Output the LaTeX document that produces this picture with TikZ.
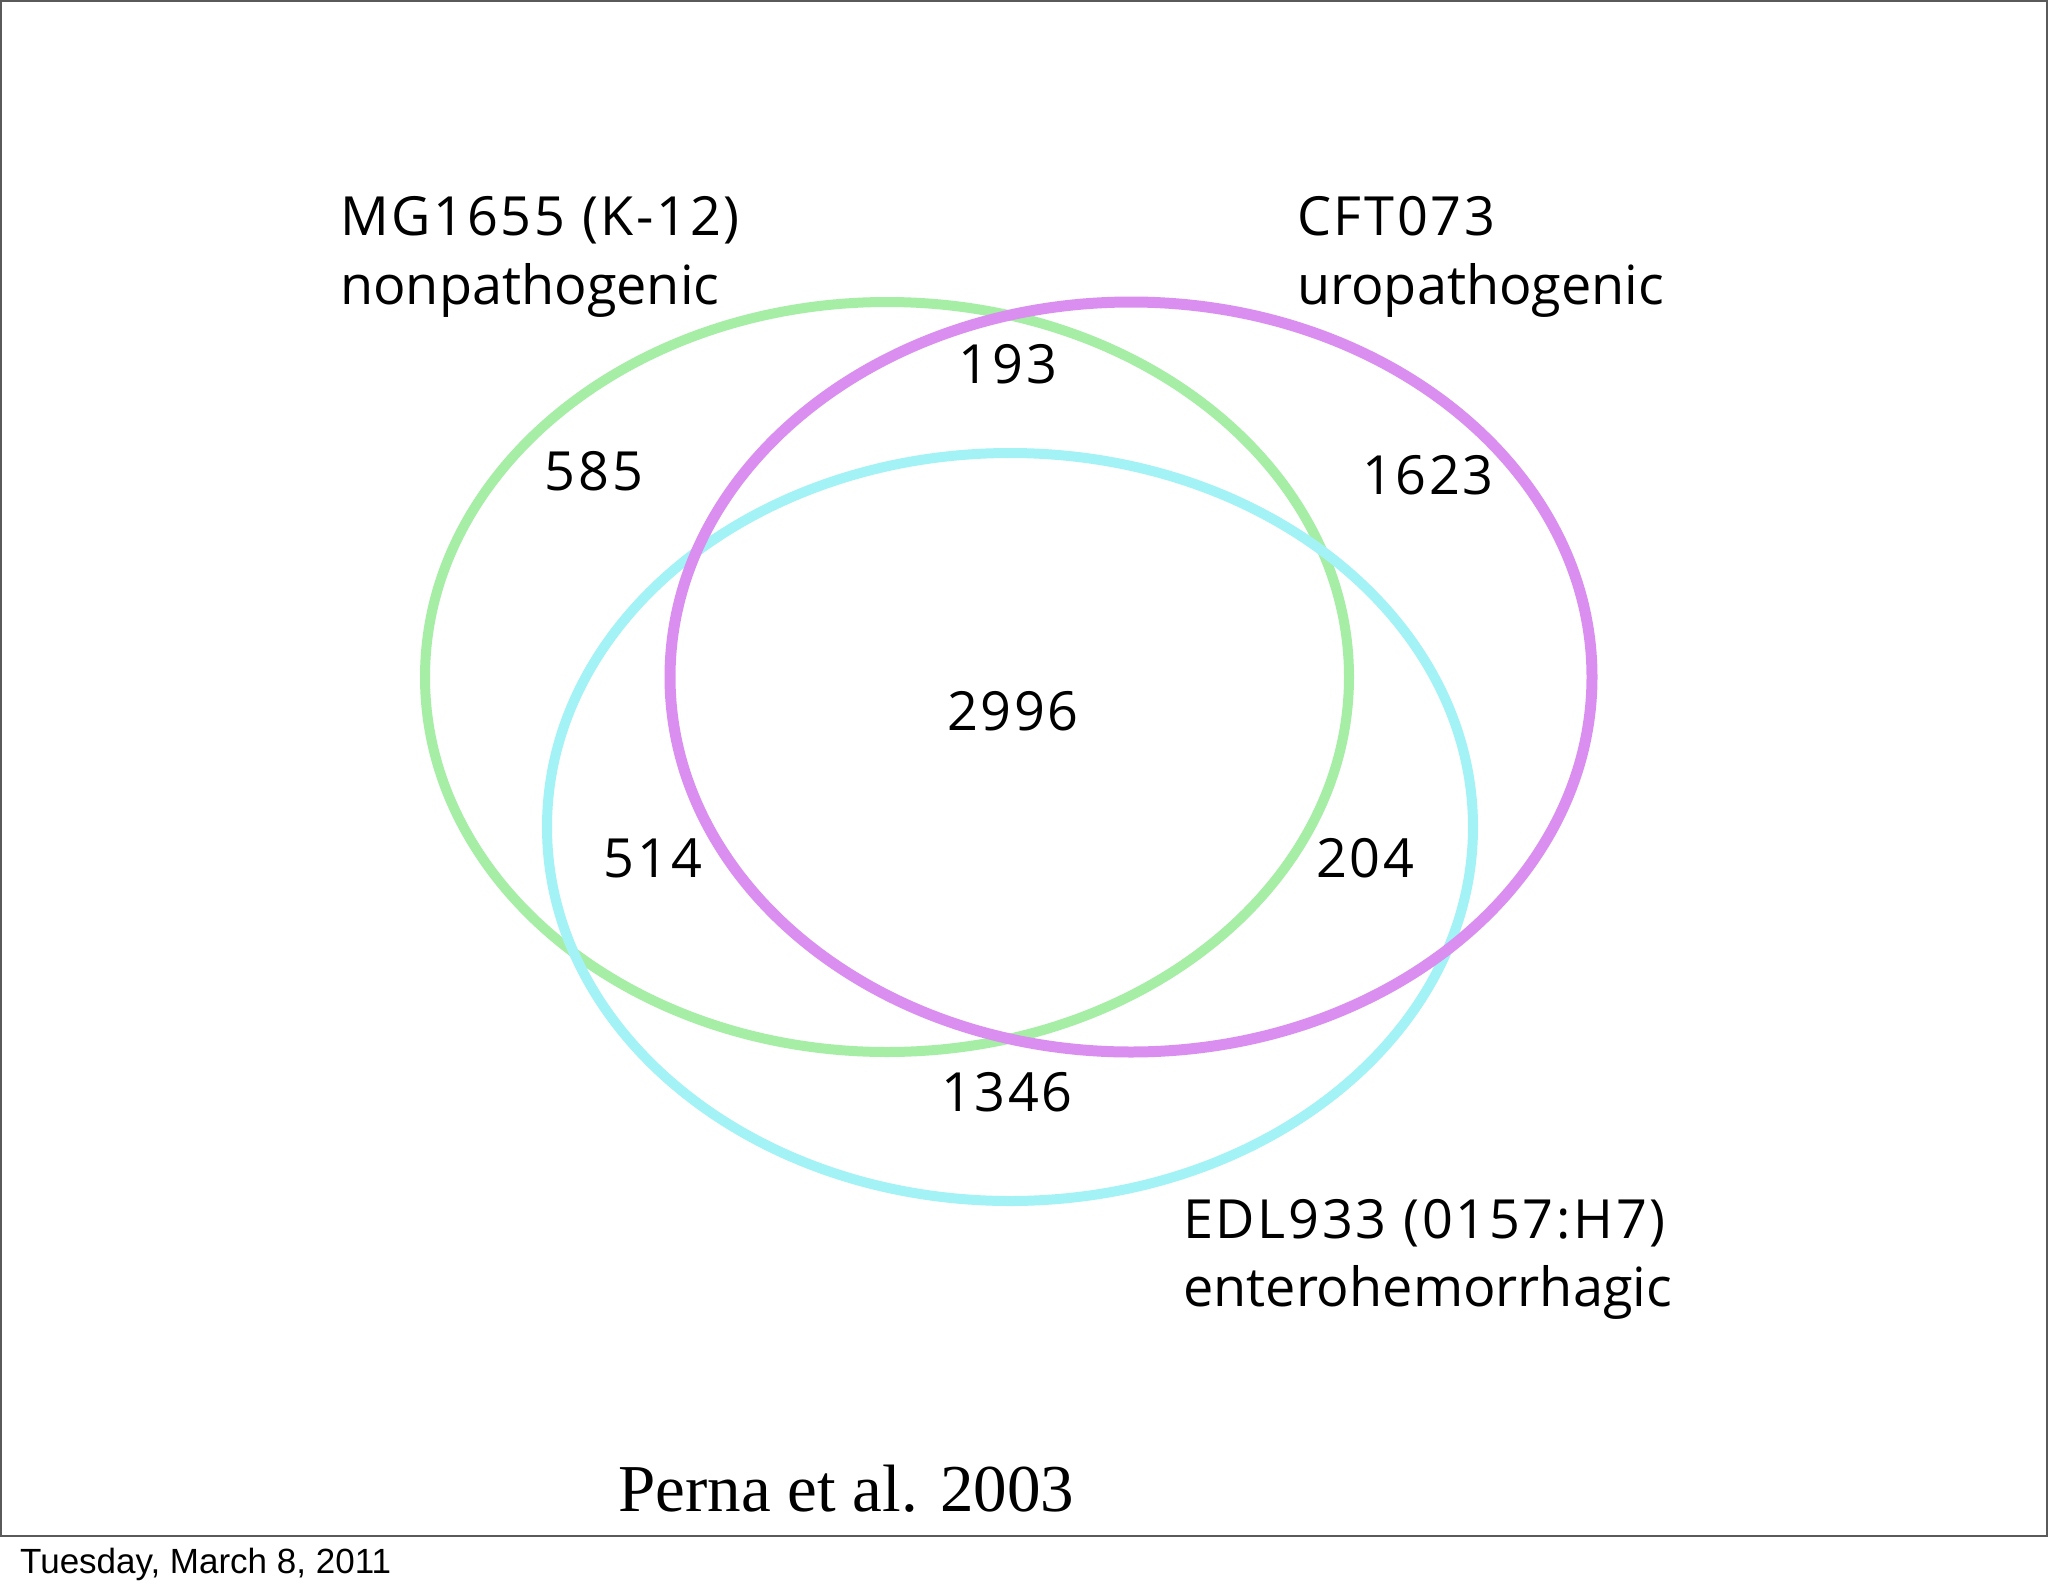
\documentclass[tikz,border=0pt]{standalone}
\usepackage{fontspec}
\setmainfont{Liberation Serif}
\newfontfamily\lblfont{Open Sans}
\newfontfamily\digfont[LetterSpace=5]{Open Sans}
\newfontfamily\datefont{Liberation Sans}
\begin{document}
\begin{tikzpicture}[x=1pt,y=-1pt,
  lbl/.style={font=\lblfont\fontsize{54}{60}\selectfont, inner sep=0pt},
  dlbl/.style={font=\digfont\fontsize{54}{60}\selectfont, inner sep=0pt},
  num/.style={font=\digfont\fontsize{54}{60}\selectfont, inner sep=0pt, anchor=base},
  ring/.style={line width=10pt}]
\definecolor{cgreen}{HTML}{A6EEA6}
\definecolor{cmag}{HTML}{DA8FF0}
\definecolor{ccyan}{HTML}{A3F2F6}
\definecolor{cframe}{HTML}{5A5A5A}
\useasboundingbox (0,0) rectangle (2048,1593);
\fill[white] (0,0) rectangle (2048,1593);
\draw[cframe, line width=2pt] (1,1) rectangle (2047,1536);
\draw[ring, cgreen] (887,677) ellipse [x radius=462pt, y radius=375pt];
\draw[ring, ccyan] (1010,827) ellipse [x radius=463pt, y radius=374pt];
\draw[ring, cmag, line width=11pt] (1131,677) ellipse [x radius=461pt, y radius=375pt];
\node[dlbl, anchor=base west] (mgA) at (340,235) {MG1655 (K-12)};
\node[lbl, anchor=base west] (mgB) at (340,304) {nonpathogenic};
\node[dlbl, anchor=base west] (cfA) at (1297,235) {CFT073};
\node[lbl, anchor=base west] (cfB) at (1297,304) {uropathogenic};
\node[dlbl, anchor=base west] (edA) at (1183,1238) {EDL933 (0157:H7)};
\node[lbl, anchor=base west] (edB) at (1183,1306) {enterohemorrhagic};
\node[num] (n193) at (1008,383) {193};
\node[num] (n585) at (594,490) {585};
\node[num] (n1623) at (1428,494) {1623};
\node[num] (n2996) at (1013,730) {2996};
\node[num] (n514) at (653,877) {514};
\node[num] (n204) at (1365,877) {204};
\node[num] (n1346) at (1007,1111) {1346};
\node[font=\fontsize{67}{80}\selectfont, inner sep=0pt, anchor=base west] (cite) at (618,1511) {Perna et al. 2003};
\node[font=\datefont\fontsize{35}{40}\selectfont, inner sep=0pt, anchor=base west] (date) at (20,1573) {Tuesday, March 8, 2011};
\end{tikzpicture}
\end{document}
